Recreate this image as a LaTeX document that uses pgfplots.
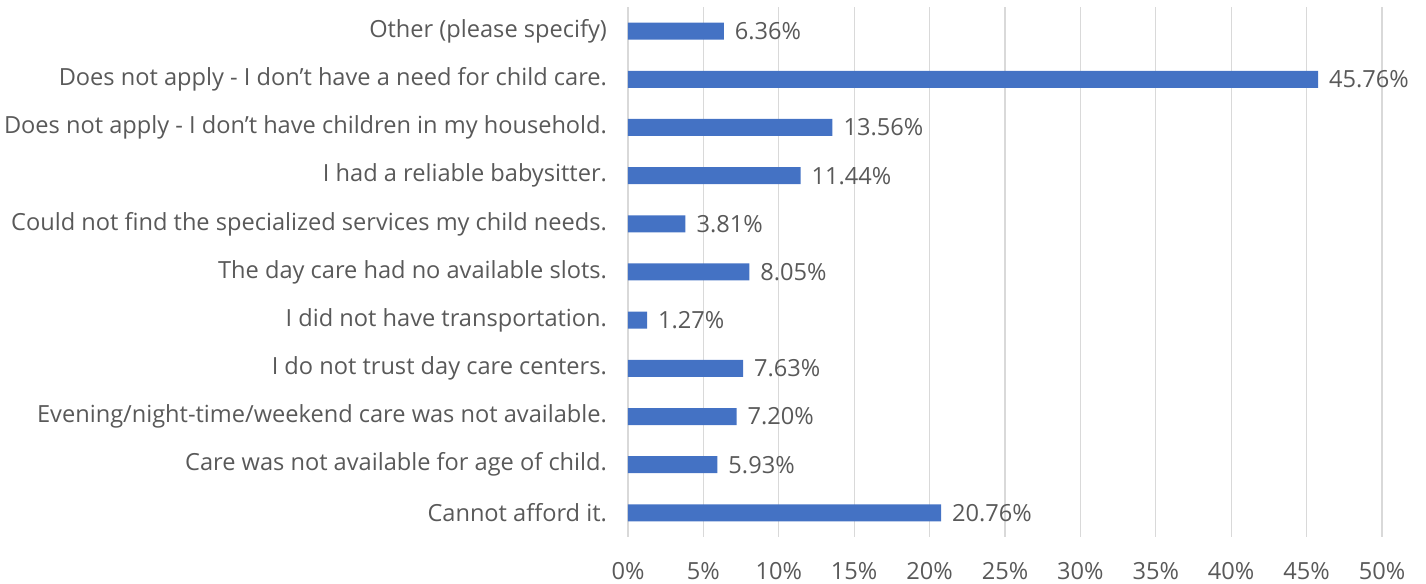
\documentclass[border=0pt]{standalone}
\usepackage{pgfplots}
\pgfplotsset{compat=1.18}
\usepackage{fontspec}
\setmainfont{Open Sans}
\definecolor{barblue}{HTML}{4472C4}
\definecolor{txt}{HTML}{595959}
\definecolor{gridc}{HTML}{D9D9D9}

\pgfplotstableread[col sep=comma]{
pos,val
0,20.76
1,5.93
2,7.20
3,7.63
4,1.27
5,8.05
6,3.81
7,11.44
8,13.56
9,45.76
10,6.36
}\datatable

\begin{document}
\begin{tikzpicture}
\path[use as bounding box] (-314pt,-23.5pt) rectangle (399pt,268.5pt);
\begin{axis}[
  scale only axis,
  width=377pt, height=265pt,
  xbar, bar width=8.5pt,
  xmin=0, xmax=50,
  ymin=-0.5, ymax=10.5,
  xtick={0,5,...,50},
  xticklabel={\pgfmathprintnumber{\tick}\%},
  ytick={0,...,10},
  yticklabels={
    Cannot afford it.,
    Care was not available for age of child.,
    Evening/night-time/weekend care was not available.,
    I do not trust day care centers.,
    I did not have transportation.,
    The day care had no available slots.,
    Could not find the specialized services my child needs.,
    I had a reliable babysitter.,
    Does not apply - I don't have children in my household.,
    Does not apply - I don't have a need for child care.,
    Other (please specify)},
  /pgf/number format/assume math mode=true,
  tick label style={font=\fontsize{11.8}{13}\selectfont, text=txt},
  xticklabel style={yshift=-9pt},
  yticklabel style={xshift=-7pt},
  major tick length=0pt,
  xmajorgrids, grid style={gridc, line width=0.6pt},
  axis x line*=bottom,
  axis y line*=left,
  x axis line style={draw=none},
  y axis line style={gridc, line width=0.8pt, -},
  nodes near coords={\pgfmathprintnumber[fixed,fixed zerofill,precision=2]{\pgfplotspointmeta}\%},
  nodes near coords style={font=\fontsize{11.8}{13}\selectfont, text=txt, xshift=2pt},
]
\addplot[fill=barblue, draw=none] table[x=val, y=pos] {\datatable};
\end{axis}
\end{tikzpicture}
\end{document}
